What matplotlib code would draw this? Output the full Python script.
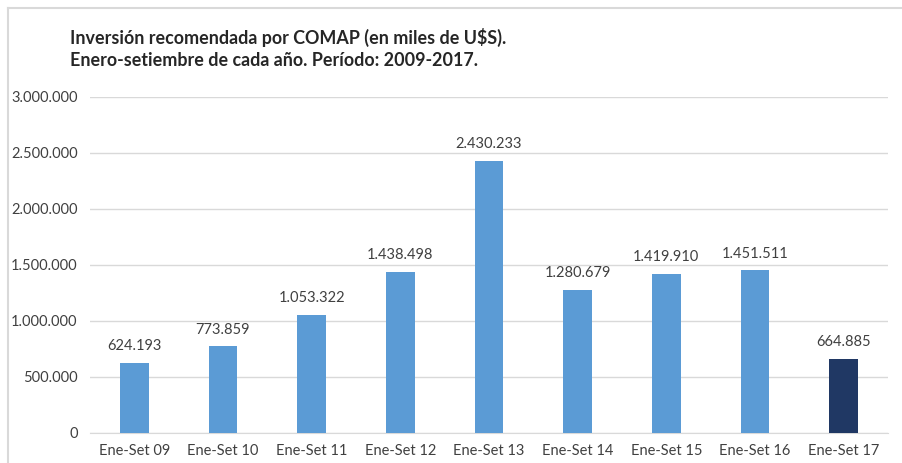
import matplotlib
matplotlib.use("Agg")
import matplotlib.pyplot as plt
from matplotlib.lines import Line2D

categories = ["Ene-Set 09", "Ene-Set 10", "Ene-Set 11", "Ene-Set 12", "Ene-Set 13",
              "Ene-Set 14", "Ene-Set 15", "Ene-Set 16", "Ene-Set 17"]
values = [624193, 773859, 1053322, 1438498, 2430233, 1280679, 1419910, 1451511, 664885]
yticks = [0, 500000, 1000000, 1500000, 2000000, 2500000, 3000000]
title_lines = ["Inversión recomendada por COMAP (en miles de U$S).",
               "Enero-setiembre de cada año. Período: 2009-2017."]

def fmt(v):
    return f"{v:,}".replace(",", ".")

plt.rcParams['font.family'] = ['Lato', 'DejaVu Sans']
W, H = 902, 463
fig = plt.figure(figsize=(W / 100, H / 100), dpi=100)
ax = fig.add_axes([90 / W, 30 / H, (888 - 90) / W, (433 - 97) / H])

colors = ["#5B9BD5"] * (len(values) - 1) + ["#203864"]
x = list(range(len(values)))
ax.bar(x, values, width=0.32, color=colors, zorder=3)
for xi, v in zip(x, values):
    ax.annotate(fmt(v), (xi, v), xytext=(0, 7), textcoords="offset points",
                ha="center", va="bottom", fontsize=10.5, color="#404040")

ax.set_xlim(-0.5, len(values) - 0.5)
ax.set_ylim(0, 3000000)
ax.set_yticks(yticks)
ax.set_yticklabels([fmt(t) for t in yticks])
ax.set_xticks(x)
ax.set_xticklabels(categories)
ax.tick_params(axis="both", length=0, labelsize=10.5, labelcolor="#404040")
ax.tick_params(axis="y", pad=9)
ax.tick_params(axis="x", pad=8)
ax.grid(axis="y", color="#D9D9D9", linewidth=1, zorder=0)
for s in ["top", "right", "left"]:
    ax.spines[s].set_visible(False)
ax.spines["bottom"].set_color("#D9D9D9")

fig.text(70 / W, 1 - 37 / H, title_lines[0], fontsize=12.9, fontweight="bold",
         color="#262626", va="center", ha="left")
fig.text(70 / W, 1 - 61 / H, title_lines[1], fontsize=12.9, fontweight="bold",
         color="#262626", va="center", ha="left")

# outer chart frame (top and left edges visible)
fig.add_artist(Line2D([8 / W, 1], [1 - 8 / H, 1 - 8 / H], transform=fig.transFigure,
                      color="#D9D9D9", linewidth=1.5))
fig.add_artist(Line2D([8 / W, 8 / W], [0, 1 - 8 / H], transform=fig.transFigure,
                      color="#D9D9D9", linewidth=1.5))

fig.savefig("out.png", dpi=100)
